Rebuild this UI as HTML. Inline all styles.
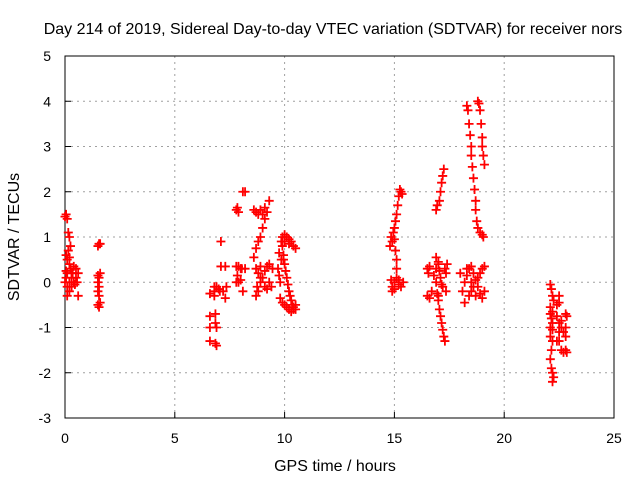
<!DOCTYPE html>
<html><head><meta charset="utf-8"><style>
body{margin:0;background:#fff}
svg text{font-family:"Liberation Sans",sans-serif;font-size:14px;fill:#000}
svg text.big{font-size:16px}
</style></head><body>
<svg width="640" height="480">
<rect width="640" height="480" fill="#fff"/>
<g id="grid"></g>
<rect x="65" y="56" width="549" height="362" fill="none" stroke="#000"/>
<g id="ticks"></g>
<g id="marks"></g>
<text class="big" x="333" y="34" text-anchor="middle">Day 214 of 2019, Sidereal Day-to-day VTEC variation (SDTVAR) for receiver nors</text>
<text class="big" x="335" y="471" text-anchor="middle">GPS time / hours</text>
<text class="big" x="19" y="237" text-anchor="middle" transform="rotate(-90 19 237)">SDTVAR / TECUs</text>
</svg>
<script>
const xTicks=[0,5,10,15,20,25];
const yTicks=[-3,-2,-1,0,1,2,3,4,5];
const ptsX=[0,0.05,0.1,0.05,0.1,0.15,0.2,0.2,0.25,0.3,0.1,0.05,0,0.1,0.2,0.3,0.4,0.5,0.6,0.5,0.4,0.3,0.2,0.1,0.6,0.2,0.25,0.15,0.45,0.55,0.35,0.05,
1.5,1.55,1.6,1.5,1.55,1.6,1.5,1.55,1.5,1.55,1.5,1.55,1.6,
6.6,6.6,6.6,6.6,6.8,6.8,6.85,6.85,6.9,6.85,6.9,6.8,6.9,7,7.05,7.1,7.1,7.2,7.3,7.35,7.3,
7.8,7.85,7.9,8.1,8.2,7.8,7.9,8,7.8,7.9,8,7.85,8.1,8.05,8.2,
8.6,8.7,8.8,8.9,9,9.1,9.2,9.3,8.6,8.7,8.8,8.9,9,9.1,8.7,8.8,8.9,9,9.1,9.2,9.3,8.7,8.8,8.9,9.1,9.2,8.75,8.9,9.3,9.4,9.45,
9.85,9.9,10,10.1,10.2,10.3,10.4,10.5,10.2,10,9.9,9.95,10,10.05,10.1,10.15,10.2,10.25,10.3,10.35,10.4,10.5,9.7,9.75,9.8,9.8,9.9,10,10.1,10.2,10.3,10.4,10.5,9.85,9.75,9.95,
14.8,14.85,14.9,14.95,15,15.05,15.1,15.15,15.2,15.25,15.3,15.35,15,15.05,15.1,15.1,14.85,14.9,15,15.1,15.2,15.3,15.4,14.9,15,15.2,
16.5,16.55,16.6,16.5,16.6,16.7,16.8,16.9,17,16.9,17,16.9,16.95,17,17.05,17.1,17.15,17.2,17.3,17.35,17.4,17.35,17,17.05,17.1,17.15,17.2,17.25,17.3,16.9,16.95,17.05,17.1,17.15,17.2,17.25,
18.3,18.35,18.4,18.45,18.5,18.5,18.55,18.6,18.65,18.7,18.7,18.75,18.8,18.9,19,19.05,18.8,18.85,18.9,18.95,19,19,19.05,19.1,
18,18.1,18.2,18.3,18.4,18.5,18.6,18.7,18.8,18.9,19,18.4,18.5,18.6,18.8,18.9,19,19.1,18.2,18.3,19.1,18.7,18.5,
22.1,22.15,22.2,22.25,22.1,22.1,22.15,22.2,22.1,22.2,22.1,22.2,22.2,22.4,22.5,22.5,22.4,22.5,22.6,22.5,22.6,22.7,22.8,22.85,22.8,22.8,22.8,22.6,22.7,22.85,22.5,22.4,22.15,22.1,22.15,22.2,22.25,22.2];
const ptsY=[1.45,1.5,1.4,0.6,0.5,0.7,0.55,0.4,0.3,0.2,0.2,0.1,0,-0.1,0,0.1,0,0.1,0.2,0.3,0.35,-0.1,-0.2,-0.3,-0.3,1.0,0.8,1.1,-0.05,0,0.2,0.25,
0.8,0.85,0.85,0.15,0.1,0.2,0,-0.1,-0.2,-0.3,-0.5,-0.55,-0.45,
-0.75,-1.0,-1.3,-0.25,-0.3,-0.2,-0.7,-0.9,-1.0,-1.35,-1.4,-0.1,-0.1,-0.15,-0.2,0.35,0.9,-0.2,-0.35,-0.1,0.35,
1.6,1.65,1.55,2.0,2.0,0,0,0.05,0.35,0.35,0.3,0.15,-0.2,0.3,0.3,
0.55,0.75,0.9,1.0,1.2,1.4,1.55,1.8,1.6,1.55,1.5,1.6,1.5,1.65,-0.3,-0.2,0,0.1,0.25,0.35,0.4,0.3,0.2,0.1,-0.1,-0.15,-0.1,0.35,0,-0.1,0.3,
0.9,1.0,1.05,1.0,0.95,0.9,0.8,0.75,0.85,0.9,0.8,0.6,0.4,0.25,0.1,-0.05,-0.2,-0.3,-0.4,-0.5,-0.55,-0.6,0.3,0.15,0,-0.35,-0.45,-0.5,-0.55,-0.6,-0.65,-0.6,-0.5,0.5,0.65,0.5,
0.8,1.0,0.9,1.1,1.2,1.35,1.5,1.7,1.9,2.05,2.0,1.95,0.95,0.7,0.5,0.3,0.05,-0.1,0,0.1,-0.05,-0.1,0,-0.2,-0.15,0.05,
0.3,0.2,0.35,-0.3,-0.35,-0.2,0.15,0.3,0.4,0.55,0.45,0,-0.25,-0.3,0.25,0.1,-0.05,-0.1,0.3,0.2,0.4,-0.2,-0.4,-0.6,-0.75,-0.9,-1.05,-1.2,-1.3,1.6,1.7,1.8,2.0,2.2,2.35,2.5,
3.9,3.8,3.5,3.25,3.0,2.8,2.55,2.3,2.05,1.8,1.6,1.35,1.2,1.1,1.05,1.0,4.0,3.95,3.8,3.5,3.2,3.0,2.8,2.6,
0.2,-0.2,0,0.15,0.3,0.35,0.2,0.05,-0.1,-0.25,-0.35,-0.3,-0.2,-0.1,0.1,0.2,0.3,0.35,-0.45,0.3,-0.2,-0.3,0,
-0.05,-0.15,-0.3,-0.4,-0.55,-0.7,-0.8,-0.9,-1.0,-1.05,-1.2,-1.3,-0.65,-0.5,-0.3,-0.45,-0.75,-0.9,-0.85,-1.1,-1.0,-1.1,-0.7,-0.75,-1.0,-1.2,-1.5,-1.5,-1.55,-1.55,-1.3,-1.3,-1.5,-1.7,-1.9,-2.0,-2.1,-2.2];
const NS="http://www.w3.org/2000/svg";
const X=h=>65+h*549/25, Y=v=>56+(5-v)*362/8;
const grid=document.getElementById('grid'),ticks=document.getElementById('ticks'),marks=document.getElementById('marks');
function mk(tag,attrs,parent){const e=document.createElementNS(NS,tag);for(const k in attrs)e.setAttribute(k,attrs[k]);parent.appendChild(e);return e;}
xTicks.forEach(t=>{
  if(t>0&&t<25){const g=mk('line',{x1:X(t),x2:X(t),y1:56,y2:418,stroke:'#a0a0a0','stroke-dasharray':'2,4'},grid);
  
  }
  const l=mk('text',{x:X(t),y:443,'text-anchor':'middle'},ticks);l.textContent=t;
  
  
  mk('line',{x1:X(t),x2:X(t),y1:418,y2:412,stroke:'#000'},ticks);
});
yTicks.forEach(t=>{
  if(t>-3&&t<5){const g=mk('line',{x1:65,x2:614,y1:Y(t),y2:Y(t),stroke:'#a0a0a0','stroke-dasharray':'2,4'},grid);
  
  }
  const l=mk('text',{x:51,y:Y(t)+5,'text-anchor':'end'},ticks);l.textContent=t;
  
  
  mk('line',{x1:65,x2:71,y1:Y(t),y2:Y(t),stroke:'#000'},ticks);
});
mk('line',{x1:X(0),x2:X(0),y1:56,y2:418,stroke:'#000'},ticks);
for(let i=0;i<ptsX.length;i++){
  const x=X(ptsX[i]),y=Y(ptsY[i]);
  const p=mk('path',{d:`M${x-4.5} ${y}H${x+4.5}M${x} ${y-4.5}V${y+4.5}`,stroke:'#f00','stroke-width':1.8,fill:'none'},marks);
  
  
}
</script>
</body></html>
